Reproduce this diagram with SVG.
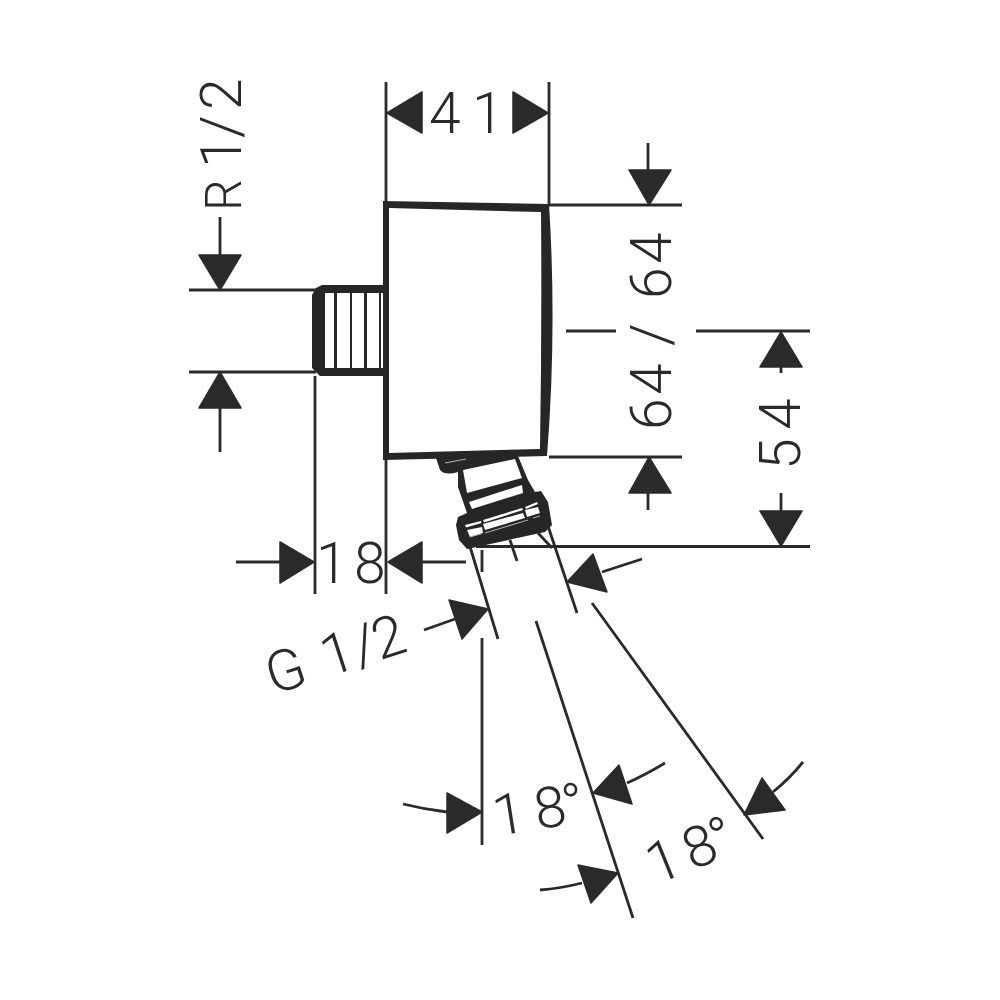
<svg xmlns="http://www.w3.org/2000/svg" width="1000" height="1000" viewBox="0 0 1000 1000">
<defs>
<style>
.t{font-family:"Roboto","Liberation Sans",sans-serif;font-weight:300;font-size:57px;fill:#2a2a2a}
.d{fill:none;stroke:#2a2a2a;stroke-width:2.8}
.a{fill:#2a2a2a;stroke:#2a2a2a;stroke-width:1.5;stroke-linejoin:round}
.s{fill:#262626}
.w{fill:#fff}
</style>
</defs>
<g id="connectors">
<path class="d" d="M386 82V204M549 82V204M549 205H682M549 457H682M189 290H316M189 372H316M315 376V594M386 458V594M566 331H616M696 331H810M476 546.500H810M648 143V170M648 492V510M781 365V373M781 493V511M220 217V255M220 408V452M236 562H280M422 562H466M482 550V572M482 638V845M468 540L498 639M510 540L517 561M536 621L633 918M548 526L577 613M538 533L552 548M592 603L763 839M424 630L455 619M602 572L642 559M627 783Q645 775 665 763M403 804Q425 809.500 447 812M540 890Q560 888.500 582 883M773 792Q790 778 803 762"/>
<g class="a">
<path d="M387 113L422 92V133ZM548 113L513 92V133Z"/>
<path d="M649 205L629 170H671ZM649 457L629 493H671Z"/>
<path d="M220 290L199 255H241ZM220 372L199 408H241Z"/>
<path d="M781 332L760 367H802ZM781 546L760 511H802Z"/>
<path d="M314 562L280 542V583ZM388 562L422 542V583Z"/>
<path d="M567 582L593 554L607 592ZM488 609L449 600L462 639Z"/>
<path d="M482 812L447 793V833ZM593 793L619 765L632 804ZM618 873L578 865L591 903ZM744 815L762 778L785 810Z"/>
</g>
</g>
<g id="body">
<path class="s" fill-rule="evenodd" d="M383 201L549 204Q557 330 547 456L383 460ZM389 208V453L540 449Q542 330 541 212Z"/>
</g>
<g id="inlet">
<path class="s" d="M386 285H322L316 288L312 295V368L316 372L320 376H386V368H325V293H386Z"/>
<path class="s" d="M334 293H337V368H334ZM350 293H352V368H350ZM364 293H367V368H364ZM379 293H381V368H379Z"/>
</g>
<g id="outlet">
<path class="s" d="M436 458L440 470Q445 476 458 472L458 487L467 513L458 517L456 525L459 540L467 549L545 532L552 525L548 502L541 491L535 492L528 480L518 456Z"/>
<path class="w" d="M463 470L515 459L522 478L467 493Z"/>
<path class="w" d="M469 502L522 485L523 493L472 509Z"/>
<path class="w" d="M465 525L481 521L481.500 523L466 527.500ZM483 520L522 508L523 510L484 522.500ZM525 507L537 502L538 504L526 509Z"/>
<path class="w" d="M467 530L482 527L483 533L470 537ZM483 524L523 513L525 518L485 530ZM525 510L538 507L540 513L527 517Z"/>
<path fill="none" stroke="#b5b5b5" stroke-width="1" d="M470 537L482 533.500M485 533L528 520M533 518L540 516M445 463L466 459"/>
</g>
<g id="labels">
<text class="t" transform="translate(241,208) rotate(-90)" x="-3 30 40 70 98"><tspan font-size="50">R</tspan> 1/2</text>
<text class="t" x="429 455 472" y="133">4 1</text>
<text class="t" transform="translate(671,428) rotate(-90)" x="-2 33 65 82 110 129 164">64 / 64</text>
<text class="t" transform="translate(800,468) rotate(-90)" x="-2 25 38">5 4</text>
<text class="t" x="316 345 354" y="583">1 8</text>
<text class="t" transform="translate(273,695) rotate(-18)" x="0 45 58 91 112">G 1/2</text>
<text class="t" transform="translate(496,836) rotate(-9)" x="0 30 42 70">1 8°</text>
<text class="t" transform="translate(656,885) rotate(-22)" x="0 30 39 68">1 8°</text>
</g>
</svg>
